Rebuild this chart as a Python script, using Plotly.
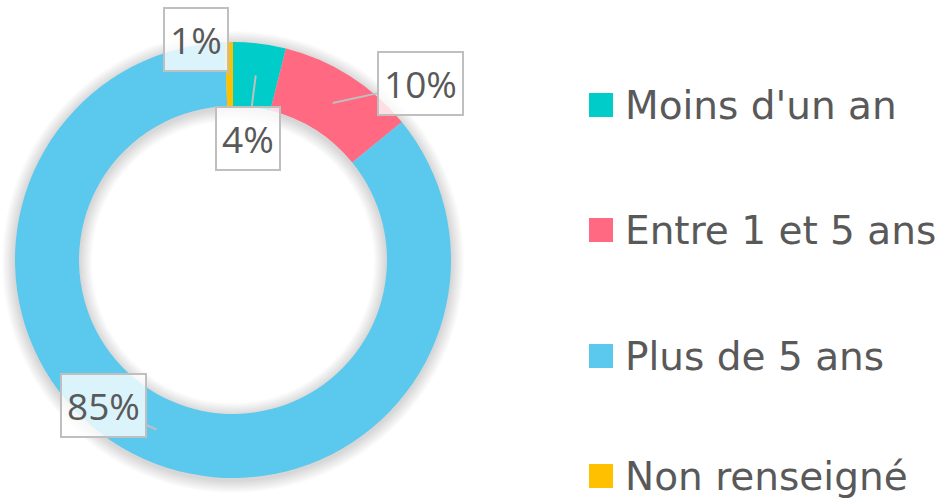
import math
import plotly.graph_objects as go

categories = ["Moins d'un an", "Entre 1 et 5 ans", "Plus de 5 ans", "Non renseigné"]
values = [3.9, 10.2, 85.3, 0.6]
colors = ["#00CCC9", "#FF6981", "#5BC8EE", "#FFC000"]
label_texts = ["4%", "10%", "85%", "1%"]

W, H = 947, 502
cx, cy, R, r = 233, 260, 218, 154

def px(x):
    return x / W

def py(y):
    return 1 - y / H

fig = go.Figure()

# soft shadow layers
for k in range(1, 9):
    Ro = R + 1.6 * k
    ri = r - 1.6 * k
    fig.add_trace(go.Pie(
        values=[1], labels=["s"], hole=ri / Ro, sort=False,
        marker=dict(colors=["rgba(0,0,0,0.02)"], line=dict(width=0)),
        textinfo="none", hoverinfo="skip", showlegend=False,
        domain=dict(x=[px(cx - Ro), px(cx + Ro)], y=[py(cy + 2 + Ro), py(cy + 2 - Ro)]),
    ))

fig.add_trace(go.Pie(
    labels=categories, values=values, hole=r / R, sort=False,
    direction="clockwise", rotation=0,
    marker=dict(colors=colors, line=dict(width=0)),
    textinfo="none", hoverinfo="label+percent", showlegend=False,
    domain=dict(x=[px(cx - R), px(cx + R)], y=[py(cy + R), py(cy - R)]),
))

# callout labels
total = sum(values)
offsets = {0: (-8, 63), 1: (88, -19), 2: (-53, -24), 3: (-33, -35)}
cum = 0
rm = (R + r) / 2
for i, v in enumerate(values):
    mid = (cum + v / 2) / total * 2 * math.pi
    cum += v
    tx = cx + rm * math.sin(mid)
    ty = cy - rm * math.cos(mid)
    ax, ay = offsets[i]
    fig.add_annotation(
        x=px(tx), y=py(ty), xref="paper", yref="paper",
        text=label_texts[i], showarrow=True, arrowhead=0, arrowwidth=2,
        arrowcolor="#BFBFBF", ax=ax, ay=ay, standoff=0,
        font=dict(family="Open Sans", size=37, color="#595959"),
        bgcolor="rgba(255,255,255,0.78)", bordercolor="#BFBFBF", borderwidth=2,
        borderpad=5,
    )

# legend
leg_y = [105, 230, 356, 476]
for i, name in enumerate(categories):
    yc = leg_y[i]
    fig.add_shape(type="rect", xref="paper", yref="paper",
                  x0=px(589), x1=px(613), y0=py(yc + 12), y1=py(yc - 12),
                  fillcolor=colors[i], line=dict(width=0))
    fig.add_annotation(x=px(623), y=py(yc), xref="paper", yref="paper",
                       text=name, showarrow=False, xanchor="left", yanchor="middle",
                       font=dict(family="DejaVu Sans", size=39, color="#595959"))

fig.update_layout(
    width=W, height=H, margin=dict(l=0, r=0, t=0, b=0),
    paper_bgcolor="white", plot_bgcolor="white", showlegend=False,
)

fig.write_html("out.html", config={"displayModeBar": False},
               post_script="document.body.style.margin='0';")
